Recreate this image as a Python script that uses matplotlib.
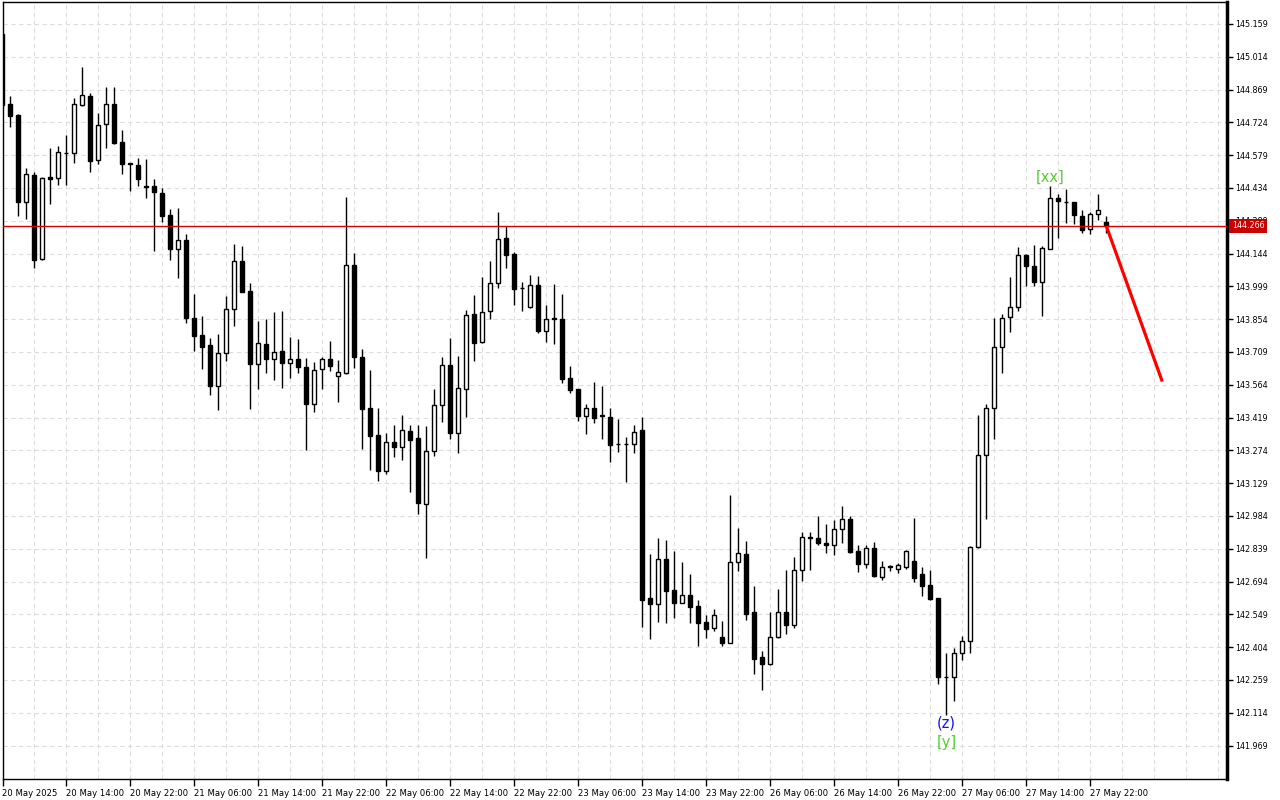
import numpy as np
import matplotlib
matplotlib.use('Agg')
import matplotlib.pyplot as plt
import matplotlib.transforms as mtransforms

# hourly candles
opens = [145.115, 144.805, 144.757, 144.373, 144.492, 144.120, 144.483, 144.477, 144.587, 144.587,
         144.802, 144.839, 144.557, 144.716, 144.804, 144.636, 144.545, 144.534, 144.443, 144.443,
         144.412, 144.315, 144.166, 144.204, 143.859, 143.784, 143.740, 143.560, 143.706, 143.898,
         144.111, 143.979, 143.657, 143.743, 143.679, 143.713, 143.662, 143.678, 143.643, 143.481,
         143.633, 143.678, 143.602, 143.615, 144.092, 143.687, 143.460, 143.342, 143.184, 143.310,
         143.290, 143.360, 143.328, 143.038, 143.270, 143.473, 143.650, 143.352, 143.544, 143.876,
         143.752, 143.889, 144.013, 144.212, 144.142, 143.991, 143.909, 144.004, 143.803, 143.858,
         143.854, 143.594, 143.544, 143.427, 143.460, 143.429, 143.420, 143.304, 143.304, 143.301,
         143.363, 142.622, 142.596, 142.793, 142.657, 142.601, 142.633, 142.586, 142.514, 142.490,
         142.448, 142.424, 142.779, 142.816, 142.558, 142.359, 142.331, 142.449, 142.558, 142.504,
         142.747, 142.888, 142.886, 142.863, 142.855, 142.925, 142.969, 142.828, 142.773, 142.841,
         142.716, 142.762, 142.751, 142.760, 142.784, 142.726, 142.677, 142.620, 142.271, 142.274,
         142.378, 142.433, 142.845, 143.253, 143.460, 143.733, 143.862, 143.907, 144.136, 144.091,
         144.016, 144.164, 144.389, 144.374, 144.371, 144.309, 144.251, 144.318, 144.285]
highs = [145.119, 144.841, 144.760, 144.522, 144.503, 144.484, 144.612, 144.620, 144.668, 144.831,
         144.969, 144.854, 144.766, 144.881, 144.881, 144.690, 144.545, 144.567, 144.562, 144.474,
         144.435, 144.341, 144.346, 144.231, 143.965, 143.868, 143.772, 143.789, 143.957, 144.186,
         144.178, 144.013, 143.846, 143.855, 143.886, 143.890, 143.777, 143.767, 143.683, 143.665,
         143.688, 143.758, 143.674, 144.396, 144.147, 143.721, 143.629, 143.460, 143.352, 143.385,
         143.431, 143.385, 143.385, 143.381, 143.545, 143.688, 143.771, 143.691, 143.895, 143.960,
         144.039, 144.111, 144.327, 144.265, 144.150, 144.017, 144.048, 144.044, 143.916, 144.008,
         143.965, 143.646, 143.544, 143.479, 143.575, 143.559, 143.460, 143.412, 143.332, 143.385,
         143.420, 142.816, 142.885, 142.877, 142.831, 142.779, 142.728, 142.613, 142.546, 142.573,
         142.520, 143.077, 142.931, 142.874, 142.675, 142.387, 142.560, 142.661, 142.745, 142.803,
         142.913, 142.913, 142.984, 142.949, 142.965, 143.028, 142.983, 142.856, 142.856, 142.868,
         142.785, 142.769, 142.775, 142.832, 142.974, 142.757, 142.746, 142.622, 142.378, 142.401,
         142.453, 142.850, 143.431, 143.481, 143.858, 143.877, 144.041, 144.173, 144.141, 144.180,
         144.177, 144.443, 144.408, 144.428, 144.371, 144.338, 144.329, 144.408, 144.310]
lows = [144.801, 144.705, 144.312, 144.297, 144.082, 144.117, 144.365, 144.449, 144.449, 144.546,
        144.798, 144.506, 144.541, 144.612, 144.630, 144.497, 144.422, 144.444, 144.391, 144.157,
        144.285, 144.117, 144.038, 143.839, 143.715, 143.634, 143.519, 143.453, 143.671, 143.824,
        143.976, 143.457, 143.545, 143.616, 143.585, 143.550, 143.594, 143.616, 143.277, 143.445,
        143.547, 143.625, 143.488, 143.612, 143.638, 143.282, 143.187, 143.139, 143.170, 143.246,
        143.232, 143.091, 142.994, 142.797, 143.251, 143.400, 143.326, 143.264, 143.423, 143.671,
        143.749, 143.856, 143.993, 144.082, 143.917, 143.892, 143.905, 143.792, 143.755, 143.746,
        143.573, 143.529, 143.405, 143.348, 143.397, 143.326, 143.224, 143.268, 143.136, 143.264,
        142.495, 142.442, 142.517, 142.512, 142.534, 142.599, 142.512, 142.409, 142.446, 142.477,
        142.411, 142.421, 142.741, 142.526, 142.287, 142.215, 142.327, 142.446, 142.464, 142.490,
        142.698, 142.745, 142.855, 142.822, 142.813, 142.863, 142.819, 142.738, 142.756, 142.716,
        142.702, 142.742, 142.731, 142.751, 142.694, 142.630, 142.611, 142.240, 142.106, 142.165,
        142.345, 142.378, 142.843, 142.970, 143.326, 143.616, 143.796, 143.892, 144.000, 144.000,
        143.869, 144.162, 144.214, 144.281, 144.274, 144.236, 144.232, 144.293, 144.236]
closes = [144.802, 144.754, 144.373, 144.495, 144.117, 144.478, 144.475, 144.592, 144.588, 144.804,
          144.844, 144.555, 144.711, 144.804, 144.633, 144.541, 144.539, 144.475, 144.437, 144.418,
          144.312, 144.166, 144.204, 143.857, 143.781, 143.732, 143.560, 143.703, 143.898, 144.111,
          143.976, 143.657, 143.748, 143.679, 143.708, 143.660, 143.677, 143.641, 143.481, 143.629,
          143.677, 143.648, 143.619, 144.092, 143.688, 143.458, 143.339, 143.184, 143.310, 143.290,
          143.363, 143.321, 143.042, 143.270, 143.473, 143.650, 143.352, 143.549, 143.871, 143.750,
          143.885, 144.013, 144.207, 144.139, 143.989, 143.990, 144.007, 143.803, 143.854, 143.854,
          143.591, 143.542, 143.427, 143.460, 143.419, 143.425, 143.299, 143.303, 143.303, 143.354,
          142.614, 142.596, 142.793, 142.654, 142.601, 142.633, 142.583, 142.512, 142.486, 142.545,
          142.424, 142.779, 142.819, 142.552, 142.353, 142.331, 142.449, 142.558, 142.504, 142.744,
          142.890, 142.890, 142.866, 142.855, 142.925, 142.969, 142.826, 142.773, 142.841, 142.717,
          142.760, 142.757, 142.766, 142.830, 142.711, 142.676, 142.616, 142.270, 142.273, 142.378,
          142.433, 142.845, 143.253, 143.460, 143.733, 143.858, 143.907, 144.136, 144.091, 144.016,
          144.167, 144.388, 144.375, 144.372, 144.313, 144.250, 144.319, 144.335, 144.266]

time_labels = ["20 May 2025", "20 May 14:00", "20 May 22:00", "21 May 06:00", "21 May 14:00",
               "21 May 22:00", "22 May 06:00", "22 May 14:00", "22 May 22:00", "23 May 06:00",
               "23 May 14:00", "23 May 22:00", "26 May 06:00", "26 May 14:00", "26 May 22:00",
               "27 May 06:00", "27 May 14:00", "27 May 22:00"]
price_ticks = [145.159, 145.014, 144.869, 144.724, 144.579, 144.434, 144.289, 144.144, 143.999,
               143.854, 143.709, 143.564, 143.419, 143.274, 143.129, 142.984, 142.839, 142.694,
               142.549, 142.404, 142.259, 142.114, 141.969]
last_price = 144.266
forecast_x = [138, 145]
forecast_y = [144.266, 143.578]

plt.rcParams['font.family'] = ['DejaVu Sans']

o = np.array(opens); h = np.array(highs); l = np.array(lows); c = np.array(closes)
x = np.arange(len(o))
up = c >= o

fig = plt.figure(figsize=(12.8, 8), dpi=100)
ax = fig.add_axes([2.5 / 1280, 21 / 800, 1224.5 / 1280, 777 / 800])

# wicks then bodies
ax.vlines(x, l, h, color='black', lw=1, zorder=2)
body_lo = np.minimum(o, c)
body_h = np.maximum(np.abs(c - o), 0.0008)
ax.bar(x[up], body_h[up], bottom=body_lo[up], width=0.5, facecolor='white',
       edgecolor='black', linewidth=1, zorder=3)
ax.bar(x[~up], body_h[~up], bottom=body_lo[~up], width=0.5, facecolor='black',
       edgecolor='black', linewidth=1, zorder=3)

# current price line + forecast
ax.axhline(last_price, color='#d80000', lw=1, zorder=4)
ax.plot(forecast_x, forecast_y, color='#ff0000', lw=2.3, zorder=5, solid_capstyle='butt')

# wave labels
ax.annotate('(z)', xy=(118, lows[118]), xytext=(0, -6), textcoords='offset points',
            ha='center', va='center', color='#1010ff', fontsize=10.5)
ax.annotate('[y]', xy=(118, lows[118]), xytext=(0, -20), textcoords='offset points',
            ha='center', va='center', color='#55cc33', fontsize=10.5)
ax.annotate('[xx]', xy=(131, highs[131]), xytext=(0, 6.4), textcoords='offset points',
            ha='center', va='center', color='#55cc33', fontsize=10.5)

ax.set_xlim(0.025, 153.09)
ax.set_ylim(141.821, 145.256)

major_x = np.arange(0, 8 * len(time_labels), 8)
minor_x = [v for v in range(0, 154, 4) if v not in set(major_x)]
ax.set_xticks(major_x)
ax.set_xticks(minor_x, minor=True)
ax.set_xticklabels(time_labels, ha='left', fontsize=6.1)
shift = mtransforms.ScaledTranslation(2 / 100, 0, fig.dpi_scale_trans)
for lbl in ax.get_xticklabels():
    lbl.set_transform(lbl.get_transform() + shift)
ax.set_yticks(price_ticks)
ax.set_yticklabels(['%.3f' % v for v in price_ticks], fontsize=5.8)

ax.yaxis.tick_right()
ax.tick_params(axis='y', length=4, width=1, pad=2)
ax.tick_params(axis='x', which='major', length=5, width=1, pad=2.5)
ax.tick_params(axis='x', which='minor', length=0)

ax.grid(True, which='both', color='#dddddd', linestyle=(0, (4, 3)), lw=0.8)
ax.set_axisbelow(True)

for side in ['left', 'bottom', 'top']:
    ax.spines[side].set_linewidth(1)
ax.spines['right'].set_linewidth(2.5)

trans = mtransforms.blended_transform_factory(ax.transAxes, ax.transData)
ax.annotate('144.266', xy=(1, last_price), xycoords=trans, xytext=(3.5, 0),
            textcoords='offset points', ha='left', va='center', color='white', fontsize=5.8,
            bbox=dict(boxstyle='square,pad=0.3', fc='#c80000', ec='none'), zorder=10,
            annotation_clip=False)

fig.savefig('out.png', dpi=100)
